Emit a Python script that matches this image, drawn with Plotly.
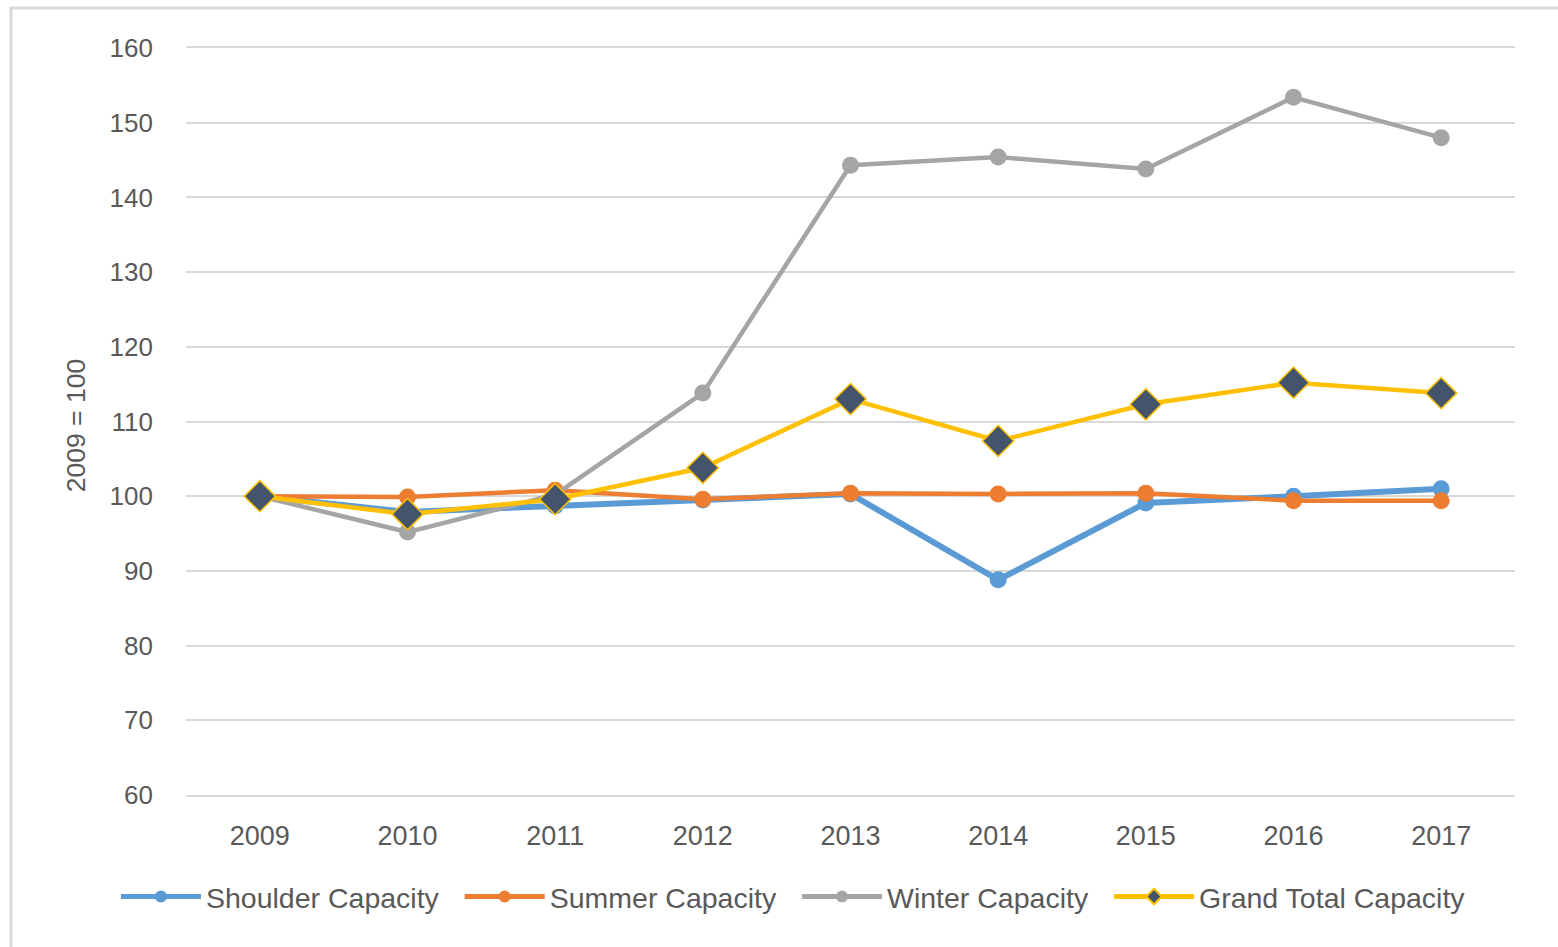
import plotly.graph_objects as go

years = ["2009", "2010", "2011", "2012", "2013", "2014", "2015", "2016", "2017"]
shoulder = [100.0, 97.9, 98.7, 99.5, 100.3, 88.8, 99.1, 100.0, 101.0]
summer = [100.0, 99.9, 100.8, 99.6, 100.4, 100.3, 100.4, 99.4, 99.4]
winter = [100.0, 95.2, 100.2, 113.8, 144.3, 145.4, 143.8, 153.4, 148.0]
grand_total = [100.0, 97.6, 99.6, 103.8, 113.0, 107.4, 112.3, 115.2, 113.8]
y_ticks = [60, 70, 80, 90, 100, 110, 120, 130, 140, 150, 160]

FONT = "Liberation Sans, Arial, sans-serif"
TXT = "#595959"
GRID = "#D9D9D9"
PAD = "\u00a0\u00a0"

fig = go.Figure()
fig.add_trace(go.Scatter(x=years, y=shoulder, name="Shoulder Capacity" + PAD, mode="lines+markers",
                         line=dict(color="#5B9BD5", width=6), marker=dict(size=17, color="#5B9BD5")))
fig.add_trace(go.Scatter(x=years, y=summer, name="Summer Capacity" + PAD, mode="lines+markers",
                         line=dict(color="#ED7D31", width=4.5), marker=dict(size=17, color="#ED7D31")))
fig.add_trace(go.Scatter(x=years, y=winter, name="Winter Capacity" + PAD, mode="lines+markers",
                         line=dict(color="#A5A5A5", width=4.5), marker=dict(size=17, color="#A5A5A5")))
fig.add_trace(go.Scatter(x=years, y=grand_total, name="Grand Total Capacity", mode="lines+markers",
                         line=dict(color="#FFC000", width=4.5),
                         marker=dict(symbol="diamond", size=24, color="#44546A",
                                     line=dict(color="#FFC000", width=1.5))))

fig.update_layout(
    width=1558, height=947,
    margin=dict(l=186, r=43, t=48, b=152, autoexpand=False),
    paper_bgcolor="white", plot_bgcolor="white",
    font=dict(family=FONT, color=TXT, size=26),
    showlegend=True,
    legend=dict(orientation="h", x=-0.0527, xanchor="left", y=-0.1365, yanchor="middle",
                font=dict(size=28.5, color=TXT), itemwidth=80, traceorder="normal",
                itemsizing="constant"),
    xaxis=dict(type="category", range=[-0.5, 8.5], showgrid=False, showline=True,
               linecolor=GRID, linewidth=2, mirror=True,
               zeroline=False, ticks="", tickfont=dict(size=27, color=TXT),
               ticklabelstandoff=16),
    yaxis=dict(range=[60, 160], tickvals=y_ticks, showgrid=True, gridcolor=GRID, gridwidth=2,
               zeroline=False, showline=False, ticks="", tickfont=dict(size=26, color=TXT),
               ticklabelstandoff=32),
    annotations=[dict(text="2009 = 100", textangle=-90, xref="paper", yref="paper",
                      x=-0.0828, y=0.495, xanchor="center", yanchor="middle", showarrow=False,
                      font=dict(size=26.5, color=TXT))],
    shapes=[dict(type="rect", xref="paper", yref="paper",
                 x0=-175/1329, x1=1.1, y0=-0.3, y1=1 + 40/747,
                 line=dict(color=GRID, width=3), layer="below")],
)

fig.write_html("out.html", config={"displayModeBar": False},
               post_script="document.body.style.margin='0px';")
